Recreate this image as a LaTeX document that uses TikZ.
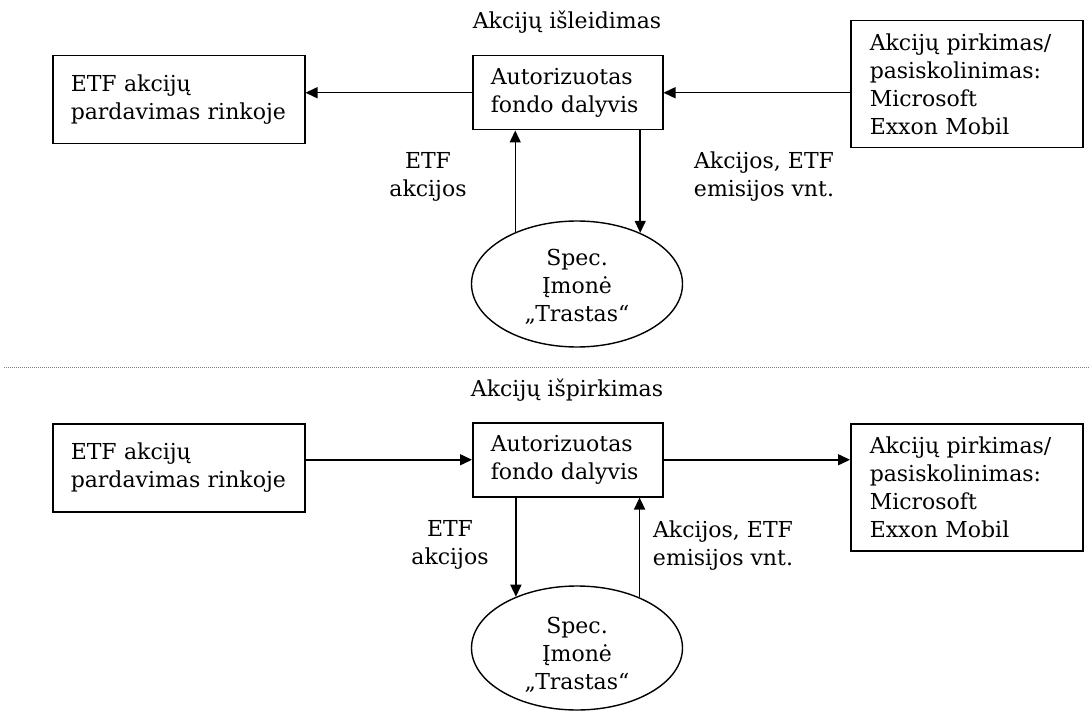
\documentclass[tikz,border=0pt]{standalone}
\usepackage{fontspec}
\setmainfont{DejaVu Serif}
\usetikzlibrary{arrows.meta,shapes.geometric}

\tikzset{
  txtfont/.style={font=\fontsize{22}{28}\selectfont},
  box/.style={draw, line width=1.5pt, inner sep=0pt, anchor=north west,
    align=left, txtfont},
  oval/.style={draw, line width=1.4pt, ellipse, inner sep=0pt,
    minimum width=211pt, minimum height=126pt},
  lbl/.style={align=center, inner sep=0pt, txtfont},
  flow/.style={line width=1.5pt, -{Triangle[length=12pt,width=11pt]}},
  sep/.style={gray, line width=1pt, dash pattern=on 1pt off 1pt}
}

\begin{document}
\begin{tikzpicture}[x=1pt, y=-1pt]
\path[use as bounding box, fill=white] (0,0) rectangle (1089,711);

% ---- issuing of shares ----
\node[lbl] (t1) at (567,22) {Akcijų išleidimas};

\node[box, minimum width=252pt, minimum height=88pt, text width=216pt] (l1) at (52,55)
  {ETF akcijų\\pardavimas rinkoje};
\node[box, minimum width=190pt, minimum height=74pt, text width=154pt] (m1) at (472,55)
  {Autorizuotas\\fondo dalyvis};
\node[box, minimum width=232pt, minimum height=127pt, text width=194pt] (r1) at (850,20)
  {Akcijų pirkimas/\\pasiskolinimas:\\Microsoft\\Exxon Mobil};
\node[oval] (e1) at (577,284) {};
\node[lbl] (e1t) at (577,287) {Spec.\\Įmonė\\„Trastas“};

\draw[flow] (r1.west |- m1.east) -- (m1.east);
\draw[flow] (m1.west) -- (l1.east |- m1.west);
\draw[flow] (e1.140.8) -- (e1.140.8 |- m1.south);
\draw[flow] (e1.39 |- m1.south) -- (e1.39);

\node[lbl] (a1) at (428,177) {ETF\\akcijos};
\node[lbl] (b1) at (764,177) {Akcijos, ETF\\emisijos vnt.};

% ---- separator ----
\coordinate (s0) at (4,367);
\coordinate (s1) at (1089,367);
\draw[sep] (s0) -- (s1);

% ---- redemption of shares ----
\node[lbl] (t2) at (567,390) {Akcijų išpirkimas};

\node[box, minimum width=252pt, minimum height=88pt, text width=216pt] (l2) at (52,423)
  {ETF akcijų\\pardavimas rinkoje};
\node[box, minimum width=190pt, minimum height=74pt, text width=154pt] (m2) at (472,422)
  {Autorizuotas\\fondo dalyvis};
\node[box, minimum width=232pt, minimum height=127pt, text width=194pt] (r2) at (850,423)
  {Akcijų pirkimas/\\pasiskolinimas:\\Microsoft\\Exxon Mobil};
\node[oval, minimum height=124pt] (e2) at (577,648) {};
\node[lbl] (e2t) at (577,655) {Spec.\\Įmonė\\„Trastas“};

\draw[flow] (l2.east |- m2.west) -- (m2.west);
\draw[flow] (m2.east) -- (r2.west |- m2.east);
\draw[flow] (e2.140.8 |- m2.south) -- (e2.140.8);
\draw[flow] (e2.39) -- (e2.39 |- m2.south);

\node[lbl] (a2) at (450,545) {ETF\\akcijos};
\node[lbl] (b2) at (723,546) {Akcijos, ETF\\emisijos vnt.};
\end{tikzpicture}
\end{document}
